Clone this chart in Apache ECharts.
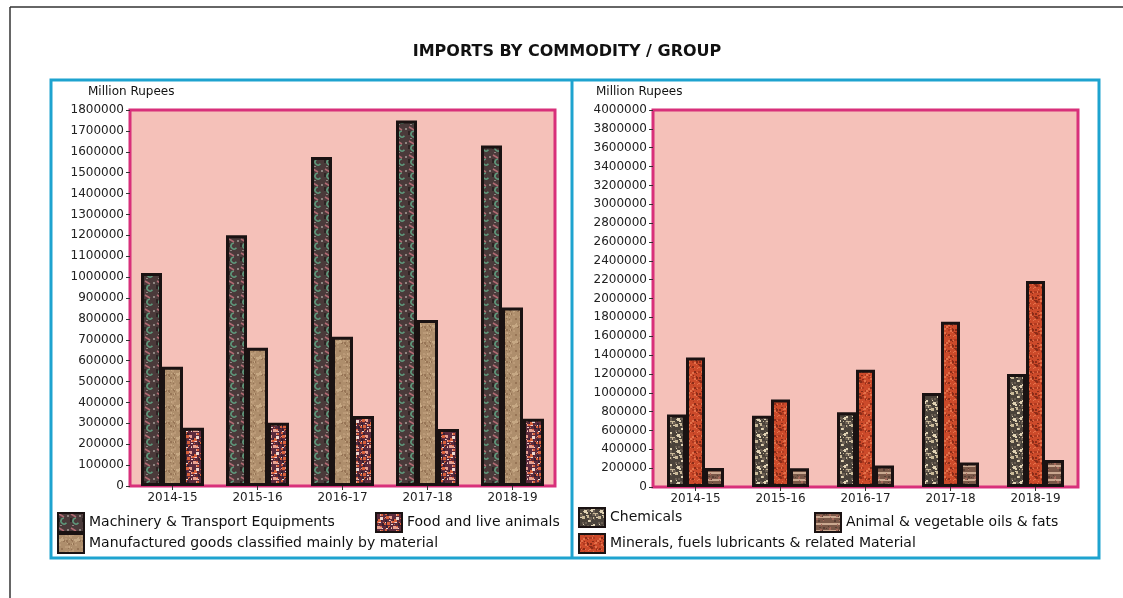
<!DOCTYPE html>
<html>
<head>
<meta charset="utf-8">
<script src="https://cdn.jsdelivr.net/npm/echarts@6/dist/echarts.min.js"></script>
<style>
html,body{margin:0;padding:0;background:#fff;}
#chart{width:1123px;height:598px;}
</style>
</head>
<body>
<div id="chart"></div>
<script>
// ---- data ----
const years = ['2014-15', '2015-16', '2016-17', '2017-18', '2018-19'];
const machinery = [1020000, 1200000, 1575000, 1750000, 1630000];
const manufactured = [571000, 662000, 715000, 795000, 855000];
const food = [279000, 303000, 335000, 273000, 322000];
const chemicals = [770000, 757000, 792000, 997000, 1199000];
const minerals = [1375000, 929000, 1245000, 1754000, 2186000];
const animalOils = [202000, 198000, 229000, 261000, 286000];
const leftTicks = {min: 0, max: 1800000, interval: 100000};
const rightTicks = {min: 0, max: 4000000, interval: 200000};

const N1 = 'Machinery & Transport Equipments';
const N2 = 'Manufactured goods classified mainly by material';
const N3 = 'Food and live animals';
const N4 = 'Chemicals';
const N5 = 'Minerals, fuels lubricants & related Material';
const N6 = 'Animal & vegetable oils & fats';

// ---- texture helpers (style only) ----
function hr(i){ const x = Math.sin(i * 12.9898 + 78.233) * 43758.5453; return x - Math.floor(x); }
function pat(w, h, draw){
  const c = document.createElement('canvas'); c.width = w; c.height = h;
  const g = c.getContext('2d'); draw(g, w, h);
  return {image: c, repeat: 'repeat'};
}
function speckle(g, w, h, colors, n, seed, s){
  for (let i = 0; i < n; i++){
    g.fillStyle = colors[i % colors.length];
    const x = Math.floor(hr(seed + i * 3) * w), y = Math.floor(hr(seed + i * 3 + 1) * h);
    const sz = 1 + Math.floor(hr(seed + i * 3 + 2) * s);
    g.fillRect(x, y, sz, sz);
  }
}
const pMach = pat(12, 14, (g, w, h) => {
  g.fillStyle = '#4a3a3a'; g.fillRect(0, 0, w, h);
  g.strokeStyle = '#5e9a7c'; g.lineWidth = 1.5;
  g.beginPath(); g.arc(6, 8, 3, 0.2 * Math.PI, 1.5 * Math.PI); g.stroke();
  g.strokeStyle = '#b06a72'; g.lineWidth = 1.5;
  g.beginPath(); g.moveTo(1, 1); g.lineTo(6, 4); g.stroke();
  g.fillStyle = '#8e8480'; g.fillRect(9, 2, 2, 2); g.fillRect(2, 12, 2, 1);
  g.fillStyle = '#2e2424'; g.fillRect(0, 5, 2, 4);
});
const pManu = pat(16, 16, (g, w, h) => {
  g.fillStyle = '#ae8e6c'; g.fillRect(0, 0, w, h);
  speckle(g, w, h, ['#c6a884', '#977556', '#bb9a78'], 40, 11, 2);
});
const pFood = pat(16, 16, (g, w, h) => {
  g.fillStyle = '#5c2a3c'; g.fillRect(0, 0, w, h);
  speckle(g, w, h, ['#f0d8d0', '#d8603c', '#e8a090', '#3a2030'], 50, 37, 3);
});
const pChem = pat(16, 16, (g, w, h) => {
  g.fillStyle = '#4a423a'; g.fillRect(0, 0, w, h);
  speckle(g, w, h, ['#e0d2b4', '#c8b898', '#6a5e52'], 34, 71, 3);
});
const pMin = pat(16, 16, (g, w, h) => {
  g.fillStyle = '#cc4a2a'; g.fillRect(0, 0, w, h);
  speckle(g, w, h, ['#8c2c18', '#e4704a', '#b03a20'], 50, 97, 2);
});
const pAnim = pat(16, 14, (g, w, h) => {
  g.fillStyle = '#7a5848'; g.fillRect(0, 0, w, h);
  g.fillStyle = '#caa890'; g.fillRect(0, 3, w, 2); g.fillRect(0, 10, w, 2);
  speckle(g, w, h, ['#a4685a', '#5a3e34'], 16, 131, 2);
});

const chart = echarts.init(document.getElementById('chart'), null, {renderer: 'canvas'});
const FONT = 'DejaVu Sans';
const border = {borderColor: '#1a1212', borderWidth: 3};

function yAxis(gi, t){
  return {
    type: 'value', gridIndex: gi, min: t.min, max: t.max, interval: t.interval,
    axisLine: {show: false},
    axisTick: {show: true, length: 4, lineStyle: {color: '#333'}},
    splitLine: {show: false},
    axisLabel: {fontFamily: FONT, fontSize: 12, color: '#222', margin: 6, showMinLabel: true, showMaxLabel: true,
      formatter: v => String(v)}
  };
}
function xAxis(gi){
  return {
    type: 'category', gridIndex: gi, data: years,
    axisLine: {show: false},
    axisTick: {show: true, alignWithLabel: true, length: 4, lineStyle: {color: '#333'}},
    axisLabel: {fontFamily: FONT, fontSize: 12, color: '#222', margin: 6}
  };
}
function legend(name, left, top){
  return {
    data: [name], left: left, top: top, padding: 0, itemWidth: 26, itemHeight: 19,
    icon: 'rect', selectedMode: false,
    itemStyle: {borderColor: '#1a1212', borderWidth: 2},
    textStyle: {fontFamily: FONT, fontSize: 14, color: '#111'}
  };
}

const option = {
  backgroundColor: '#ffffff',
  animation: false,
  grid: [
    {left: 130, top: 110, width: 425, height: 376, show: true, backgroundColor: '#f5c1b9', borderColor: '#d8307a', borderWidth: 3, containLabel: false},
    {left: 653, top: 110, width: 425, height: 377, show: true, backgroundColor: '#f5c1b9', borderColor: '#d8307a', borderWidth: 3, containLabel: false}
  ],
  xAxis: [xAxis(0), xAxis(1)],
  yAxis: [yAxis(0, leftTicks), yAxis(1, rightTicks)],
  legend: [
    legend(N1, 57, 512), legend(N3, 375, 512), legend(N2, 57, 533),
    legend(N4, 578, 507), legend(N6, 814, 512), legend(N5, 578, 533)
  ],
  series: [
    {name: N1, type: 'bar', xAxisIndex: 0, yAxisIndex: 0, data: machinery, barWidth: 21, barGap: '0%', itemStyle: Object.assign({color: pMach}, border)},
    {name: N2, type: 'bar', xAxisIndex: 0, yAxisIndex: 0, data: manufactured, barWidth: 21, barGap: '0%', itemStyle: Object.assign({color: pManu}, border)},
    {name: N3, type: 'bar', xAxisIndex: 0, yAxisIndex: 0, data: food, barWidth: 21, barGap: '0%', itemStyle: Object.assign({color: pFood}, border)},
    {name: N4, type: 'bar', xAxisIndex: 1, yAxisIndex: 1, data: chemicals, barWidth: 19, barGap: '0%', itemStyle: Object.assign({color: pChem}, border)},
    {name: N5, type: 'bar', xAxisIndex: 1, yAxisIndex: 1, data: minerals, barWidth: 19, barGap: '0%', itemStyle: Object.assign({color: pMin}, border)},
    {name: N6, type: 'bar', xAxisIndex: 1, yAxisIndex: 1, data: animalOils, barWidth: 19, barGap: '0%', itemStyle: Object.assign({color: pAnim}, border)}
  ],
  graphic: [
    {type: 'line', shape: {x1: 10, y1: 7, x2: 1123, y2: 7}, style: {stroke: '#333', lineWidth: 1.5}, silent: true},
    {type: 'line', shape: {x1: 10, y1: 7, x2: 10, y2: 598}, style: {stroke: '#333', lineWidth: 1.5}, silent: true},
    {type: 'rect', shape: {x: 51, y: 80, width: 1048, height: 478}, style: {fill: null, stroke: '#1ea3cf', lineWidth: 3}, silent: true, z: -1},
    {type: 'line', shape: {x1: 572, y1: 80, x2: 572, y2: 558}, style: {stroke: '#1ea3cf', lineWidth: 3}, silent: true},
    {type: 'text', x: 567, y: 52, style: {text: 'IMPORTS BY COMMODITY / GROUP', font: 'bold 16px "DejaVu Sans"', fill: '#111', align: 'center', verticalAlign: 'middle'}, silent: true},
    {type: 'text', x: 88, y: 92, style: {text: 'Million Rupees', font: '12px "DejaVu Sans"', fill: '#111', align: 'left', verticalAlign: 'middle'}, silent: true},
    {type: 'text', x: 596, y: 92, style: {text: 'Million Rupees', font: '12px "DejaVu Sans"', fill: '#111', align: 'left', verticalAlign: 'middle'}, silent: true}
  ]
};
chart.setOption(option);
</script>
</body>
</html>
